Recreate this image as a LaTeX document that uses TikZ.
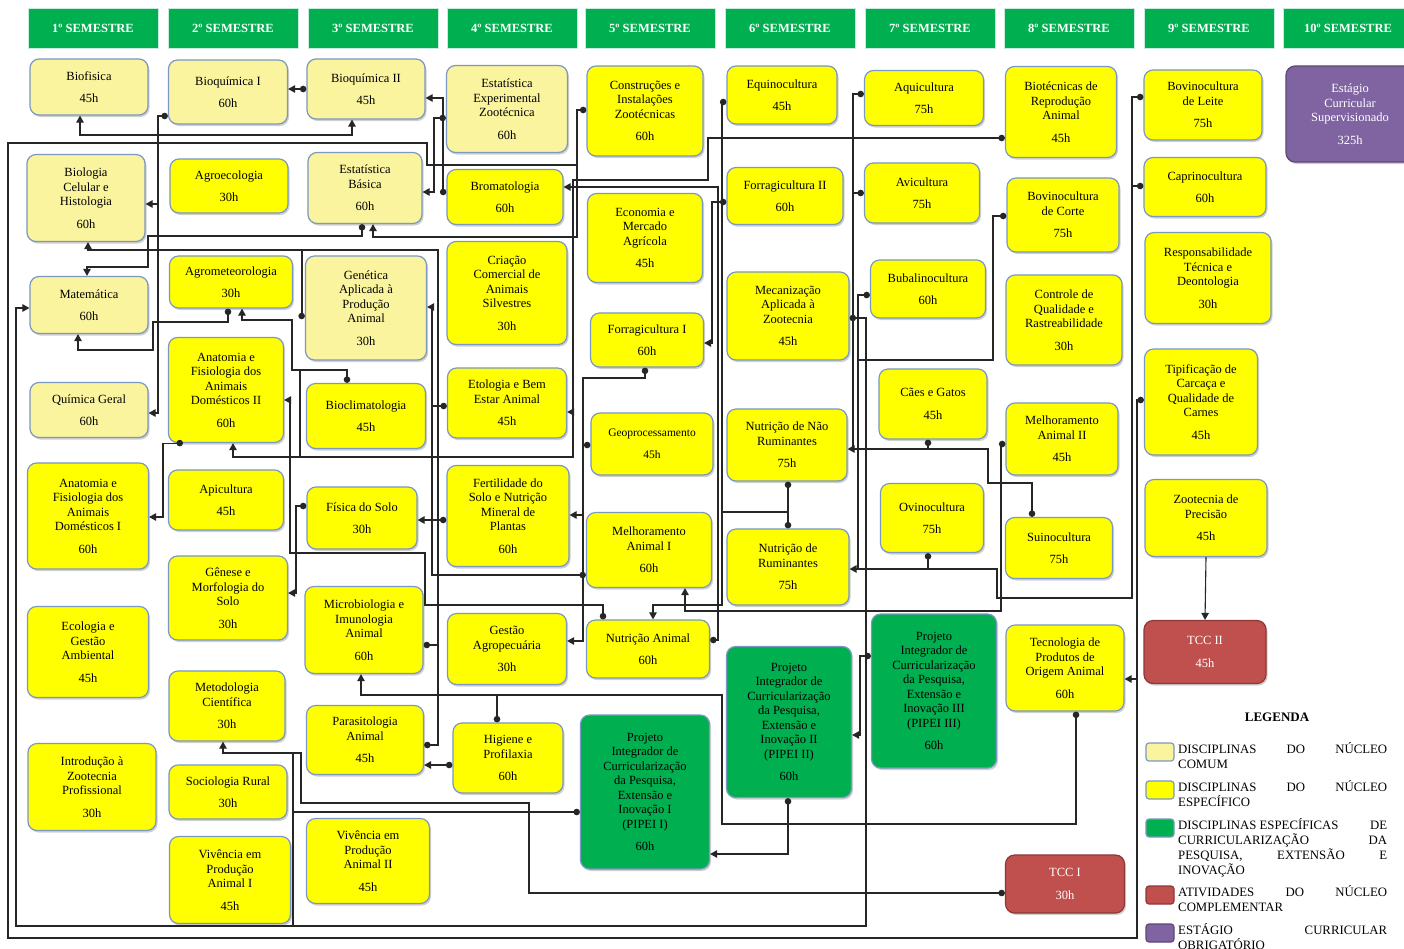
\documentclass[tikz,border=0pt]{standalone}
\usepackage{fontspec}
\setmainfont{Liberation Serif}
\usetikzlibrary{arrows.meta,shadows}
\definecolor{gcComum}{RGB}{250,244,158}
\definecolor{gcEspec}{RGB}{255,255,0}
\definecolor{gcEdge}{RGB}{122,152,192}
\definecolor{gcGreen}{RGB}{0,176,80}
\definecolor{gcRed}{RGB}{192,80,77}
\definecolor{gcRedEdge}{RGB}{140,56,54}
\definecolor{gcPurple}{RGB}{128,100,162}
\definecolor{gcPurpleEdge}{RGB}{92,71,118}
\definecolor{gcHead}{RGB}{0,176,80}
\definecolor{gcHeadEdge}{RGB}{200,236,222}
\newcommand{\coursefont}{\fontsize{12.5}{14.5}\selectfont}

\begin{document}
\begin{tikzpicture}[x=1pt,y=-1pt,
  course/.style={rounded corners=9pt, draw=gcEdge, line width=1.2pt, align=center,
    inner sep=2pt, font=\coursefont, text=black,
    drop shadow={shadow xshift=1.5pt, shadow yshift=-2pt, opacity=0.3, fill=black!60}},
  comum/.style={course, fill=gcComum},
  especifico/.style={course, fill=gcEspec},
  pipei/.style={course, fill=gcGreen},
  tcc/.style={course, fill=gcRed, draw=gcRedEdge, text=white},
  estagio/.style={course, fill=gcPurple, draw=gcPurpleEdge, text=white},
  semestre/.style={fill=gcHead, draw=gcHeadEdge, line width=1pt, text=white,
    font=\fontsize{12.5}{14}\selectfont\bfseries, minimum width=130pt, minimum height=40pt},
  swatch/.style={rounded corners=3pt, line width=1.2pt, minimum width=28pt, minimum height=18pt},
  legtext/.style={anchor=north west, inner sep=0pt, font=\fontsize{12.8}{15}\selectfont},
  wire/.style={draw=black!85, line width=1.1pt},
  dotarrow/.style={wire, {Circle[length=6.5pt]}-{Triangle[length=7pt,width=7.5pt]}},
  toarrow/.style={wire, -{Triangle[length=7pt,width=7.5pt]}},
  fromdot/.style={wire, {Circle[length=6.5pt]}-}]
\useasboundingbox (0,0) rectangle (1404,948);
\fill[white] (0,0) rectangle (1404,948);

% semester headers
\foreach \s/\cx in {1/93,2/233,3/373,4/512,5/650,6/790,7/930,8/1069,9/1209,10/1348}
  \node[semestre] (sem\s) at (\cx,28) {{\s}º SEMESTRE};

% 1st semester
\node[comum, minimum width=118pt, minimum height=56pt] (biofisica) at (89,87) {Biofisica\\[8pt]45h};
\node[comum, minimum width=118pt, minimum height=87pt] (biocel) at (86,198) {Biologia\\Celular e\\Histologia\\[8pt]60h};
\node[comum, minimum width=118pt, minimum height=57pt] (matematica) at (89,305) {Matemática\\[8pt]60h};
\node[comum, minimum width=118pt, minimum height=55pt] (quimica) at (89,410) {Química Geral\\[8pt]60h};
\node[especifico, minimum width=121pt, minimum height=106pt] (anatI) at (88,516) {Anatomia e\\Fisiologia dos\\Animais\\Domésticos I\\[8pt]60h};
\node[especifico, minimum width=121pt, minimum height=91pt] (ecologia) at (88,652) {Ecologia e\\Gestão\\Ambiental\\[8pt]45h};
\node[especifico, minimum width=128pt, minimum height=87pt] (intro) at (92,787) {Introdução à\\Zootecnia\\Profissional\\[8pt]30h};

% 2nd semester
\node[comum, minimum width=119pt, minimum height=64pt] (bioqI) at (228,92) {Bioquímica I\\[8pt]60h};
\node[especifico, minimum width=118pt, minimum height=54pt] (agroeco) at (229,186) {Agroecologia\\[8pt]30h};
\node[especifico, minimum width=123pt, minimum height=52pt] (agromet) at (231,282) {Agrometeorologia\\[8pt]30h};
\node[especifico, minimum width=115pt, minimum height=105pt] (anatII) at (226,390) {Anatomia e\\Fisiologia dos\\Animais\\Domésticos II\\[8pt]60h};
\node[especifico, minimum width=115pt, minimum height=60pt] (apicultura) at (226,500) {Apicultura\\[8pt]45h};
\node[especifico, minimum width=119pt, minimum height=84pt] (genese) at (228,598) {Gênese e\\Morfologia do\\Solo\\[8pt]30h};
\node[especifico, minimum width=116pt, minimum height=70pt] (metodologia) at (227,706) {Metodologia\\Científica\\[8pt]30h};
\node[especifico, minimum width=118pt, minimum height=54pt] (sociologia) at (228,792) {Sociologia Rural\\[8pt]30h};
\node[especifico, minimum width=121pt, minimum height=87pt] (vivenciaI) at (230,880) {Vivência em\\Produção\\Animal I\\[8pt]45h};

% 3rd semester
\node[comum, minimum width=118pt, minimum height=60pt] (bioqII) at (366,89) {Bioquímica II\\[8pt]45h};
\node[comum, minimum width=114pt, minimum height=71pt] (estbas) at (365,188) {Estatística\\Básica\\[8pt]60h};
\node[comum, minimum width=121pt, minimum height=104pt] (genetica) at (366,308) {Genética\\Aplicada à\\Produção\\Animal\\[8pt]30h};
\node[especifico, minimum width=119pt, minimum height=65pt] (bioclima) at (366,416) {Bioclimatologia\\[8pt]45h};
\node[especifico, minimum width=110pt, minimum height=62pt] (fisica) at (362,518) {Física do Solo\\[8pt]30h};
\node[especifico, minimum width=118pt, minimum height=87pt] (microbio) at (364,630) {Microbiologia e\\Imunologia\\Animal\\[8pt]60h};
\node[especifico, minimum width=117pt, minimum height=69pt] (parasito) at (365,740) {Parasitologia\\Animal\\[8pt]45h};
\node[especifico, minimum width=123pt, minimum height=85pt] (vivenciaII) at (368,861) {Vivência em\\Produção\\Animal II\\[8pt]45h};

% 4th semester
\node[comum, minimum width=121pt, minimum height=87pt] (estexp) at (507,109) {Estatística\\Experimental\\Zootécnica\\[8pt]60h};
\node[especifico, minimum width=116pt, minimum height=55pt] (bromato) at (505,197) {Bromatologia\\[8pt]60h};
\node[especifico, minimum width=120pt, minimum height=103pt] (silvestres) at (507,293) {Criação\\Comercial de\\Animais\\Silvestres\\[8pt]30h};
\node[especifico, minimum width=119pt, minimum height=70pt] (etologia) at (507,403) {Etologia e Bem\\Estar Animal\\[8pt]45h};
\node[especifico, minimum width=122pt, minimum height=101pt] (fertilidade) at (508,516) {Fertilidade do\\Solo e Nutrição\\Mineral de\\Plantas\\[8pt]60h};
\node[especifico, minimum width=119pt, minimum height=71pt] (gestao) at (507,649) {Gestão\\Agropecuária\\[8pt]30h};
\node[especifico, minimum width=110pt, minimum height=70pt] (higiene) at (508,758) {Higiene e\\Profilaxia\\[8pt]60h};

% 5th semester
\node[especifico, minimum width=116pt, minimum height=90pt] (construcoes) at (645,111) {Construções e\\Instalações\\Zootécnicas\\[8pt]60h};
\node[especifico, minimum width=115pt, minimum height=89pt] (economia) at (645,238) {Economia e\\Mercado\\Agrícola\\[8pt]45h};
\node[especifico, minimum width=113pt, minimum height=54pt] (forragI) at (647,340) {Forragicultura I\\[8pt]60h};
\node[especifico, minimum width=122pt, minimum height=62pt, font=\fontsize{11.5}{14}\selectfont] (geoproc) at (652,444) {Geoprocessamento\\[8pt]45h};
\node[especifico, minimum width=125pt, minimum height=75pt] (melhorI) at (649,550) {Melhoramento\\Animal I\\[8pt]60h};
\node[especifico, minimum width=123pt, minimum height=58pt] (nutricao) at (648,649) {Nutrição Animal\\[8pt]60h};
\node[pipei, minimum width=129pt, minimum height=154pt] (pipeiI) at (645,792) {Projeto\\Integrador de\\Curricularização\\da Pesquisa,\\Extensão e\\Inovação I\\(PIPEI I)\\[8pt]60h};

% 6th semester
\node[especifico, minimum width=110pt, minimum height=58pt] (equino) at (782,95) {Equinocultura\\[8pt]45h};
\node[especifico, minimum width=116pt, minimum height=57pt] (forragII) at (785,196) {Forragicultura II\\[8pt]60h};
\node[especifico, minimum width=122pt, minimum height=88pt] (mecanizacao) at (788,316) {Mecanização\\Aplicada à\\Zootecnia\\[8pt]45h};
\node[especifico, minimum width=120pt, minimum height=72pt] (nnr) at (787,445) {Nutrição de Não\\Ruminantes\\[8pt]75h};
\node[especifico, minimum width=122pt, minimum height=76pt] (nr) at (788,567) {Nutrição de\\Ruminantes\\[8pt]75h};
\node[pipei, minimum width=125pt, minimum height=151pt] (pipeiII) at (789,722) {Projeto\\Integrador de\\Curricularização\\da Pesquisa,\\Extensão e\\Inovação II\\(PIPEI II)\\[8pt]60h};

% 7th semester
\node[especifico, minimum width=119pt, minimum height=55pt] (aqui) at (924,98) {Aquicultura\\[8pt]75h};
\node[especifico, minimum width=115pt, minimum height=60pt] (avi) at (922,193) {Avicultura\\[8pt]75h};
\node[especifico, minimum width=115pt, minimum height=58pt] (bubalino) at (928,289) {Bubalinocultura\\[8pt]60h};
\node[especifico, minimum width=108pt, minimum height=70pt] (caes) at (933,404) {Cães e Gatos\\[8pt]45h};
\node[especifico, minimum width=103pt, minimum height=69pt] (ovino) at (932,518) {Ovinocultura\\[8pt]75h};
\node[pipei, minimum width=125pt, minimum height=154pt] (pipeiIII) at (934,691) {Projeto\\Integrador de\\Curricularização\\da Pesquisa,\\Extensão e\\Inovação III\\(PIPEI III)\\[8pt]60h};

% 8th semester
\node[especifico, minimum width=111pt, minimum height=91pt] (biotec) at (1061,112) {Biotécnicas de\\Reprodução\\Animal\\[8pt]45h};
\node[especifico, minimum width=112pt, minimum height=74pt] (bovcorte) at (1063,215) {Bovinocultura\\de Corte\\[8pt]75h};
\node[especifico, minimum width=116pt, minimum height=90pt] (controle) at (1064,320) {Controle de\\Qualidade e\\Rastreabilidade\\[8pt]30h};
\node[especifico, minimum width=112pt, minimum height=72pt] (melhorII) at (1062,439) {Melhoramento\\Animal II\\[8pt]45h};
\node[especifico, minimum width=107pt, minimum height=61pt] (suino) at (1059,548) {Suinocultura\\[8pt]75h};
\node[especifico, minimum width=118pt, minimum height=86pt] (tecnologia) at (1065,668) {Tecnologia de\\Produtos de\\Origem Animal\\[8pt]60h};
\node[tcc, minimum width=119pt, minimum height=58pt] (tccI) at (1065,884) {TCC I\\[8pt]30h};

% 9th semester
\node[especifico, minimum width=118pt, minimum height=70pt] (bovleite) at (1203,105) {Bovinocultura\\de Leite\\[8pt]75h};
\node[especifico, minimum width=122pt, minimum height=59pt] (capri) at (1205,187) {Caprinocultura\\[8pt]60h};
\node[especifico, minimum width=126pt, minimum height=91pt] (resp) at (1208,278) {Responsabilidade\\Técnica e\\Deontologia\\[8pt]30h};
\node[especifico, minimum width=113pt, minimum height=106pt] (tipif) at (1201,402) {Tipificação de\\Carcaça e\\Qualidade de\\Carnes\\[8pt]45h};
\node[especifico, minimum width=122pt, minimum height=77pt] (precisao) at (1206,518) {Zootecnia de\\Precisão\\[8pt]45h};
\node[tcc, minimum width=122pt, minimum height=63pt] (tccII) at (1205,652) {TCC II\\[8pt]45h};

% 10th semester
\node[estagio, minimum width=128pt, minimum height=96pt] (estagio) at (1350,114) {Estágio\\Curricular\\Supervisionado\\[8pt]325h};

% prerequisite wiring
\draw[dotarrow] (bioqII.west) -- (bioqI.east |- bioqII.west);
\draw[dotarrow] (bioqI.west |- 0,116) -- (158,116) -- (158,413) -- (quimica.east |- 0,413);
\draw[toarrow] (158,204) -- (biocel.east |- 0,204);
\draw[wire, {Triangle[length=7pt,width=7.5pt]}-{Triangle[length=7pt,width=7.5pt]}] (biofisica.south -| 80,0) -- (80,135) -- (352,135) -- (bioqII.south -| 352,0);
\draw[dotarrow] (agromet.south -| 228,0) -- (228,322) -- (153,322) -- (153,350) -- (78,350) -- (matematica.south -| 78,0);
\draw[dotarrow] (bioclima.north -| 347,0) -- (347,370) -- (292,370) -- (292,320) -- (242,320) -- (agromet.south -| 242,0);
\draw[toarrow] (300,370) -- (300,457) -- (233,457) -- (anatII.south -| 233,0);
\draw[toarrow] (300,457) -- (573,457) -- (573,412) -- (etologia.east |- 0,412);
\draw[fromdot] (biotec.west |- 0,138) -- (708,138) -- (708,180) -- (573,180) -- (573,412);
\draw[dotarrow] (anatII.south -| 183,0) -| (163,517) -- (anatI.east |- 0,517);
\draw[dotarrow] (estbas.south -| 362,0) -- (362,236) -- (148,236) -- (148,267) -- (87,267) -- (matematica.north -| 87,0);
\draw[dotarrow] (genetica.west |- 0,316) -- (302,316) -- (302,250) -- (88,250) -- (biocel.south -| 88,0);
\draw[fromdot] (microbio.east |- 0,645) -- (438,645) -- (438,250) -- (302,250);
\draw[fromdot] (parasito.east |- 0,745) -- (438,745) -- (438,645);
\draw[dotarrow] (melhorI.west |- 0,575) -- (432,575) -- (432,307) -- (genetica.east |- 0,307);
\draw[fromdot] (etologia.west |- 0,406) -- (432,406);
\draw[dotarrow] (estexp.west |- 0,118) -- (434,118) -- (434,192) -- (estbas.east |- 0,192);
\draw[dotarrow] (bromato.west |- 0,192) -- (443,192) -- (443,98) -- (bioqII.east |- 0,98);
\draw[dotarrow] (construcoes.west |- 0,110) -- (577,110) -- (577,237) -- (373,237) -- (estbas.south -| 373,0);
\draw[fromdot] (tipif.west |- 0,400) -- (1137,400) -- (1137,938) -- (8,938) -- (8,143) -- (427,143) -- (427,165) -- (577,165);
\draw[toarrow] (1137,679) -- (tecnologia.east |- 0,679);
\draw[dotarrow] (nutricao.east |- 0,640) -- (718,640) -- (718,187) -- (bromato.east |- 0,187);
\draw[dotarrow] (forragII.west |- 0,202) -- (712,202) -- (712,343) -- (forragI.east |- 0,343);
\draw[dotarrow] (forragI.south -| 645,0) -- (645,378) -- (583,378) -- (583,641) -- (gestao.east |- 0,641);
\draw[toarrow] (583,515) -- (fertilidade.east |- 0,515);
\draw[fromdot] (geoproc.west |- 0,445) -- (583,445);
\draw[dotarrow] (fertilidade.west |- 0,520) -- (fisica.east |- 0,520);
\draw[dotarrow] (fisica.west |- 0,506) -- (296,506) -- (296,593) -- (genese.east |- 0,593);
\draw[dotarrow] (higiene.west |- 0,765) -- (parasito.east |- 0,765);
\draw[dotarrow] (tecnologia.south -| 1076,0) -- (1076,824) -- (722,824) -- (722,695) -- (361,695) -- (microbio.south -| 361,0);
\draw[fromdot] (higiene.north -| 497,0) -- (497,695);
\draw[dotarrow] (nutricao.north -| 603,0) -- (603,605) -- (425,605) -- (425,553) -- (290,553) -- (290,400) -- (anatII.east |- 0,400);
\draw[dotarrow] (equino.west |- 0,102) -- (722,102) -- (722,605) -- (653,605) -- (nutricao.north -| 653,0);
\draw[fromdot] (nnr.south -| 788,0) -- (788,512) -- (722,512);
\draw[fromdot] (nr.north -| 788,0) -- (788,512);
\draw[dotarrow] (aqui.west |- 0,94) -- (853,94) -- (853,449) -- (nnr.east |- 0,449);
\draw[fromdot] (avi.west |- 0,193) -- (853,193);
\draw[fromdot] (caes.south -| 928,0) -- (928,449) -- (853,449);
\draw[fromdot] (suino.north -| 1032,0) -- (1032,483) -- (988,483) -- (988,449) -- (928,449);
\draw[dotarrow] (bubalino.west |- 0,295) -- (858,295) -- (858,569) -- (nr.east |- 0,569);
\draw[fromdot] (bovcorte.west |- 0,216) -- (993,216) -- (993,360) -- (858,360);
\draw[fromdot] (ovino.south -| 928,0) -- (928,569) -- (858,569);
\draw[fromdot] (bovleite.west |- 0,97) -- (1132,97) -- (1132,598) -- (997,598) -- (997,569) -- (928,569);
\draw[fromdot] (capri.west |- 0,186) -- (1132,186);
\draw[dotarrow] (melhorII.west |- 0,444) -- (1001,444) -- (1001,611) -- (685,611) -- (melhorI.south -| 685,0);
\draw[dotarrow] (mecanizacao.east |- 0,318) -- (866,318) -- (866,926) -- (16,926) -- (16,308) -- (matematica.west |- 0,308);
\draw[dotarrow] (pipeiIII.west |- 0,656) -- (860,656) -- (860,735) -- (pipeiII.east |- 0,735);
\draw[dotarrow] (pipeiII.south -| 788,0) -- (788,854) -- (pipeiI.east |- 0,854);
\draw[dotarrow] (tccI.west |- 0,893) -- (529,893) -- (529,803) -- (301,803) -- (301,753) -- (223,753) -- (metodologia.south -| 223,0);
\draw[fromdot] (pipeiI.west |- 0,812) -- (293,812) -- (293,753);
\draw[wire] (293,812) -- (293,926);
\draw[toarrow] (precisao.south) -- (tccII.north);

% legend
\node[font=\fontsize{13}{15}\selectfont\bfseries] (legenda) at (1277,717) {LEGENDA};
\node[swatch, fill=gcComum, draw=gcEdge] (swComum) at (1160,752) {};
\node[swatch, fill=gcEspec, draw=gcEdge] (swEspec) at (1160,790) {};
\node[swatch, fill=gcGreen, draw=gcEdge] (swPipei) at (1160,828) {};
\node[swatch, fill=gcRed, draw=gcRedEdge] (swTcc) at (1160,895) {};
\node[swatch, fill=gcPurple, draw=gcPurpleEdge] (swEstagio) at (1160,933) {};
\node[legtext] (lgComum) at (1178,742) {\parbox{209pt}{DISCIPLINAS\hfill DO\hfill NÚCLEO\\COMUM}};
\node[legtext] (lgEspec) at (1178,780) {\parbox{209pt}{DISCIPLINAS\hfill DO\hfill NÚCLEO\\ESPECÍFICO}};
\node[legtext] (lgPipei) at (1178,818) {\parbox{209pt}{DISCIPLINAS ESPECÍFICAS\hfill DE\\CURRICULARIZAÇÃO\hfill DA\\PESQUISA,\hfill EXTENSÃO\hfill E\\INOVAÇÃO}};
\node[legtext] (lgTcc) at (1178,885) {\parbox{209pt}{ATIVIDADES\hfill DO\hfill NÚCLEO\\COMPLEMENTAR}};
\node[legtext] (lgEstagio) at (1178,923) {\parbox{209pt}{ESTÁGIO\hfill CURRICULAR\\OBRIGATÓRIO}};
\end{tikzpicture}
\end{document}
